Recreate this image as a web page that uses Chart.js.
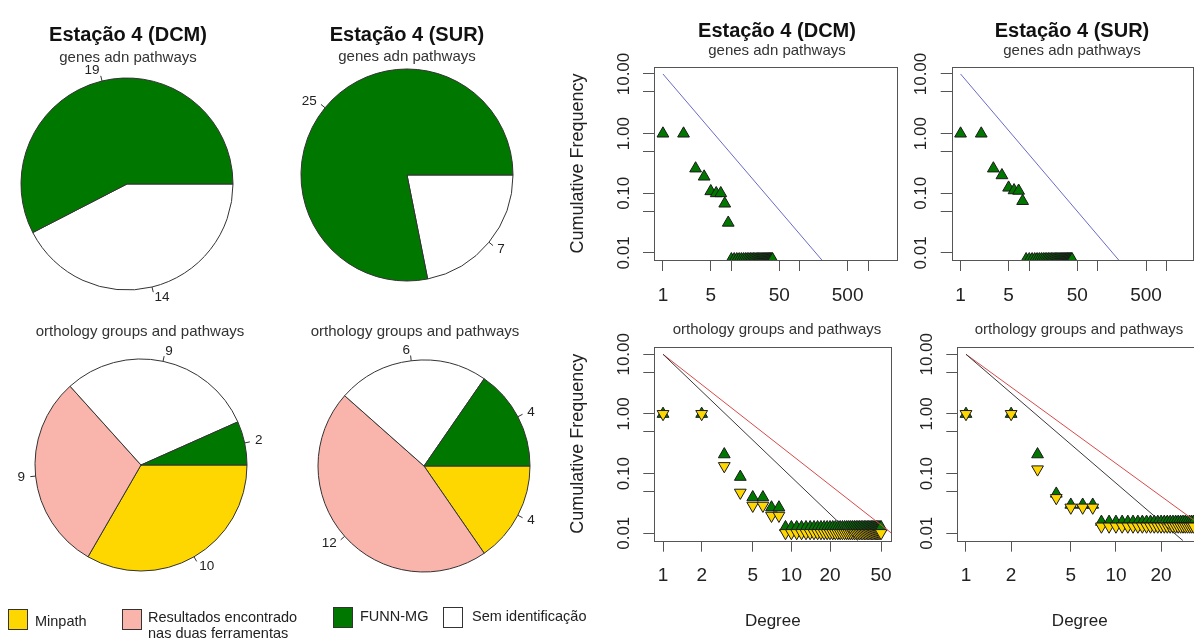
<!DOCTYPE html>
<html>
<head>
<meta charset="utf-8">
<script src="https://cdn.jsdelivr.net/npm/chart.js@4.4.0/dist/chart.umd.min.js"></script>
<style>
  body { margin: 0; width: 1194px; height: 639px; overflow: hidden; background: #fff; position: relative;
         font-family: "Liberation Sans", Arial, sans-serif; color: #222; }
  canvas { position: absolute; }
  .t { position: absolute; transform: translate(-50%, -50%); white-space: nowrap; }
  .h { font-weight: bold; font-size: 20px; color: #111; }
  .s { font-size: 15px; color: #333; }
  .box { position: absolute; width: 18px; height: 19px; border: 1px solid #333; }
  .lg { position: absolute; font-size: 14.5px; color: #222; line-height: 16px; white-space: nowrap; }
</style>
</head>
<body>

<canvas id="pie1" width="280" height="280" style="left:-13px;top:44px"></canvas>
<canvas id="pie2" width="280" height="280" style="left:267px;top:35px"></canvas>
<canvas id="pie3" width="280" height="280" style="left:1px;top:325px"></canvas>
<canvas id="pie4" width="280" height="280" style="left:284px;top:326px"></canvas>

<canvas id="sc1" width="345" height="270" style="left:560px;top:40px"></canvas>
<canvas id="sc2" width="300" height="270" style="left:900px;top:40px"></canvas>
<canvas id="sc3" width="345" height="319" style="left:560px;top:320px"></canvas>
<canvas id="sc4" width="310" height="319" style="left:900px;top:320px"></canvas>

<!-- títulos -->
<div class="t h" style="left:128px;top:34px">Estação 4 (DCM)</div>
<div class="t s" style="left:128px;top:56px">genes adn pathways</div>
<div class="t h" style="left:407px;top:34px">Estação 4 (SUR)</div>
<div class="t s" style="left:407px;top:55px">genes adn pathways</div>
<div class="t s" style="left:140px;top:330px">orthology groups and pathways</div>
<div class="t s" style="left:415px;top:330px">orthology groups and pathways</div>

<div class="t h" style="left:777px;top:30px">Estação 4 (DCM)</div>
<div class="t s" style="left:777px;top:49px">genes adn pathways</div>
<div class="t h" style="left:1072px;top:30px">Estação 4 (SUR)</div>
<div class="t s" style="left:1072px;top:49px">genes adn pathways</div>
<div class="t s" style="left:777px;top:328px">orthology groups and pathways</div>
<div class="t s" style="left:1079px;top:328px">orthology groups and pathways</div>

<!-- legenda -->
<div class="box" style="left:8px;top:609px;background:#FFD700"></div>
<div class="lg" style="left:35px;top:613px">Minpath</div>
<div class="box" style="left:122px;top:609px;background:#F9B4AB"></div>
<div class="lg" style="left:148px;top:609px">Resultados encontrado<br>nas duas ferramentas</div>
<div class="box" style="left:333px;top:607px;background:#007800"></div>
<div class="lg" style="left:360px;top:608px">FUNN-MG</div>
<div class="box" style="left:443px;top:607px;background:#fff"></div>
<div class="lg" style="left:472px;top:608px">Sem identificação</div>

<script>
// Cores das categorias
const verde = '#007800', amarelo = '#FFD700', rosa = '#F9B4AB', branco = '#FFFFFF';

// Pizzas: ordem FUNN-MG, Sem identificação, Resultados nas duas ferramentas, Minpath
const genesLabels = ['FUNN-MG', 'Sem identificação'];
const genesDCM = [19, 14];
const genesSUR = [25, 7];
const orthoLabels = ['FUNN-MG', 'Sem identificação', 'Resultados encontrado nas duas ferramentas', 'Minpath'];
const orthoDCM = [2, 9, 9, 10];
const orthoSUR = [4, 6, 12, 4];

// Dispersão genes (DCM): grau e frequência acumulada
const genesDcmDegree = [1, 2, 3, 4, 5, 6, 7, 8, 9, 10, 11, 12, 13, 14, 15, 16, 17, 18, 19, 20, 21, 22, 23, 24, 25,
  26, 27, 28, 29, 30, 31, 32, 33, 34, 35, 36, 37, 38, 39, 40];
const genesDcmFreq = [1, 1, 0.26, 0.19, 0.108, 0.1, 0.1, 0.067, 0.032, 0.0078, 0.0078, 0.0078, 0.0078, 0.0078, 0.0078,
  0.0078, 0.0078, 0.0078, 0.0078, 0.0078, 0.0078, 0.0078, 0.0078, 0.0078, 0.0078, 0.0078, 0.0078, 0.0078, 0.0078,
  0.0078, 0.0078, 0.0078, 0.0078, 0.0078, 0.0078, 0.0078, 0.0078, 0.0078, 0.0078, 0.0078];
const genesDcmFit = [[1, 10], [210, 0.0076]];

// Dispersão genes (SUR)
const genesSurDegree = [1, 2, 3, 4, 5, 6, 7, 8, 9, 10, 11, 12, 13, 14, 15, 16, 17, 18, 19, 20, 21, 22, 23, 24, 25,
  26, 27, 28, 29, 30, 31, 32, 33, 34, 35, 36, 37, 38, 39, 40, 41, 42];
const genesSurFreq = [1, 1, 0.26, 0.2, 0.124, 0.112, 0.11, 0.074, 0.0078, 0.0078, 0.0078, 0.0078, 0.0078, 0.0078,
  0.0078, 0.0078, 0.0078, 0.0078, 0.0078, 0.0078, 0.0078, 0.0078, 0.0078, 0.0078, 0.0078, 0.0078, 0.0078, 0.0078,
  0.0078, 0.0078, 0.0078, 0.0078, 0.0078, 0.0078, 0.0078, 0.0078, 0.0078, 0.0078, 0.0078, 0.0078, 0.0078, 0.0078];
const genesSurFit = [[1, 10], [200, 0.0076]];

// Dispersão orthology (DCM): FUNN-MG (verde) e Minpath (amarelo)
const orthoDcmDegree = [1, 2, 3, 4, 5, 6, 7, 8, 9, 10, 11, 12, 13, 14, 15, 16, 17, 18, 19, 20, 21, 22, 23, 24, 25,
  26, 27, 28, 29, 30, 31, 32, 33, 34, 35, 36, 37, 38, 39, 40, 41, 42, 43, 44, 45, 46, 47, 48, 49, 50];
const orthoDcmFunn = [1, 1, 0.21, 0.088, 0.04, 0.04, 0.027, 0.027, 0.0126, 0.0126, 0.0126, 0.0126, 0.0126, 0.0126,
  0.0126, 0.0126, 0.0126, 0.0126, 0.0126, 0.0126, 0.0126, 0.0126, 0.0126, 0.0126, 0.0126, 0.0126, 0.0126, 0.0126,
  0.0126, 0.0126, 0.0126, 0.0126, 0.0126, 0.0126, 0.0126, 0.0126, 0.0126, 0.0126, 0.0126, 0.0126, 0.0126, 0.0126,
  0.0126, 0.0126, 0.0126, 0.0126, 0.0126, 0.0126, 0.0126, 0.0126];
const orthoDcmMinpath = [1, 1, 0.134, 0.048, 0.029, 0.029, 0.0197, 0.0197, 0.0101, 0.0101, 0.0101, 0.0101, 0.0101,
  0.0101, 0.0101, 0.0101, 0.0101, 0.0101, 0.0101, 0.0101, 0.0101, 0.0101, 0.0101, 0.0101, 0.0101, 0.0101, 0.0101,
  0.0101, 0.0101, 0.0101, 0.0101, 0.0101, 0.0101, 0.0101, 0.0101, 0.0101, 0.0101, 0.0101, 0.0101, 0.0101, 0.0101,
  0.0101, 0.0101, 0.0101, 0.0101, 0.0101, 0.0101, 0.0101, 0.0101, 0.0101];
const orthoDcmFitBlack = [[1, 10], [33, 0.0075]];
const orthoDcmFitRed = [[1, 10], [60, 0.0101]];

// Dispersão orthology (SUR)
const orthoSurDegree = [1, 2, 3, 4, 5, 6, 7, 8, 9, 10, 11, 12, 13, 14, 15, 16, 17, 18, 19, 20, 21, 22, 23, 24, 25,
  26, 27, 28, 29, 30, 31, 32, 33];
const orthoSurFunn = [1, 1, 0.21, 0.046, 0.03, 0.03, 0.03, 0.0155, 0.0155, 0.0155, 0.0155, 0.0155, 0.0155, 0.0155,
  0.0155, 0.0155, 0.0155, 0.0155, 0.0155, 0.0155, 0.0155, 0.0155, 0.0155, 0.0155, 0.0155, 0.0155, 0.0155, 0.0155,
  0.0155, 0.0155, 0.0155, 0.0155, 0.0155];
const orthoSurMinpath = [1, 1, 0.118, 0.039, 0.027, 0.027, 0.027, 0.013, 0.013, 0.013, 0.013, 0.013, 0.013, 0.013,
  0.013, 0.013, 0.013, 0.013, 0.013, 0.013, 0.013, 0.013, 0.013, 0.013, 0.013, 0.013, 0.013, 0.013, 0.013, 0.013,
  0.013, 0.013, 0.013];
const orthoSurFitBlack = [[1, 10], [28, 0.0075]];
const orthoSurFitRed = [[1, 10], [50, 0.0078]];

// Marcas dos eixos
const xTicksGenes = [1, 5, 10, 50, 100, 500, 1000];
const xLabelsGenes = [1, 5, 50, 500];
const xTicksOrthoDcm = [1, 2, 5, 10, 20, 50];
const xTicksOrthoSur = [1, 2, 5, 10, 20];
const yTicks = [0.01, 0.05, 0.1, 0.5, 1, 5, 10];
const yLabels = [0.01, 0.1, 1, 10];

const fonte = '"Liberation Sans", Arial, sans-serif';
Chart.defaults.font.family = fonte;
Chart.defaults.color = '#222';

// Rótulos das fatias com tracinho, como no pie() do R
const pieLabelPlugin = {
  id: 'pieLabels',
  afterDatasetsDraw(chart) {
    const ctx = chart.ctx;
    const meta = chart.getDatasetMeta(0);
    const vals = chart.data.datasets[0].data;
    ctx.save();
    ctx.font = '13.5px ' + fonte;
    ctx.fillStyle = '#222';
    ctx.strokeStyle = '#333';
    ctx.lineWidth = 1;
    ctx.textBaseline = 'middle';
    meta.data.forEach((arc, i) => {
      const p = arc.getProps(['x', 'y', 'startAngle', 'endAngle', 'outerRadius'], true);
      const mid = (p.startAngle + p.endAngle) / 2;
      const c = Math.cos(mid), s = Math.sin(mid), r = p.outerRadius;
      ctx.beginPath();
      ctx.moveTo(p.x + c * r, p.y + s * r);
      ctx.lineTo(p.x + c * r * 1.05, p.y + s * r * 1.05);
      ctx.stroke();
      ctx.textAlign = c >= 0 ? 'left' : 'right';
      ctx.fillText(String(vals[i]), p.x + c * r * 1.1, p.y + s * r * 1.1);
    });
    ctx.restore();
  }
};

function pieChart(id, labels, values, colors) {
  // R desenha no sentido anti-horário a partir das 3 horas: invertemos a ordem
  new Chart(document.getElementById(id), {
    type: 'pie',
    data: {
      labels: labels.slice().reverse(),
      datasets: [{
        data: values.slice().reverse(),
        backgroundColor: colors.slice().reverse(),
        borderColor: '#333',
        borderWidth: 1
      }]
    },
    options: {
      responsive: false,
      animation: false,
      rotation: 90,
      radius: 106,
      plugins: { legend: { display: false }, tooltip: { enabled: false } }
    },
    plugins: [pieLabelPlugin]
  });
}

pieChart('pie1', genesLabels, genesDCM, [verde, branco]);
pieChart('pie2', genesLabels, genesSUR, [verde, branco]);
pieChart('pie3', orthoLabels, orthoDCM, [verde, branco, rosa, amarelo]);
pieChart('pie4', orthoLabels, orthoSUR, [verde, branco, rosa, amarelo]);

// Caixa completa em volta da área do gráfico
const boxPlugin = {
  id: 'plotBox',
  beforeDatasetsDraw(chart) {
    const a = chart.chartArea, ctx = chart.ctx;
    ctx.save();
    ctx.strokeStyle = '#555';
    ctx.lineWidth = 1;
    ctx.strokeRect(Math.round(a.left) + 0.5, Math.round(a.top) + 0.5, Math.round(a.width), Math.round(a.height));
    ctx.restore();
  }
};

// Rótulos do eixo y girados (paralelos ao eixo)
const yLabelPlugin = {
  id: 'yLabels',
  afterDraw(chart) {
    const s = chart.scales.y, ctx = chart.ctx;
    ctx.save();
    ctx.font = '17px ' + fonte;
    ctx.fillStyle = '#222';
    ctx.textAlign = 'center';
    ctx.textBaseline = 'middle';
    yLabels.forEach(v => {
      ctx.save();
      ctx.translate(s.right - 30, s.getPixelForValue(v));
      ctx.rotate(-Math.PI / 2);
      ctx.fillText(v.toFixed(2), 0, 0);
      ctx.restore();
    });
    ctx.restore();
  }
};

const pts = (xs, ys) => xs.map((x, i) => ({ x: x, y: ys[i] }));
const seg = (pairs) => pairs.map(p => ({ x: p[0], y: p[1] }));

function triangles(data, color, down) {
  return {
    data: data, pointStyle: 'triangle', pointRotation: down ? 180 : 0, pointRadius: 6.8,
    backgroundColor: color, borderColor: '#1a1a1a', pointBorderWidth: 1, showLine: false, clip: 0
  };
}
function fitLine(data, color) {
  return { data: data, showLine: true, borderColor: color, borderWidth: 1, pointRadius: 0, clip: 0 };
}

function scatterChart(id, cfg) {
  new Chart(document.getElementById(id), {
    type: 'scatter',
    data: { datasets: cfg.datasets },
    options: {
      responsive: false,
      animation: false,
      layout: { padding: { top: cfg.padTop, right: cfg.padRight, left: 0, bottom: 0 } },
      plugins: { legend: { display: false }, tooltip: { enabled: false } },
      scales: {
        x: {
          type: 'logarithmic', min: cfg.xMin, max: cfg.xMax, bounds: 'data',
          afterBuildTicks: s => { s.ticks = cfg.xTicks.map(v => ({ value: v })); },
          afterFit: s => { s.height = cfg.xAxisH; },
          border: { display: false },
          grid: { drawOnChartArea: false, drawTicks: true, tickLength: 11, color: '#555' },
          ticks: {
            autoSkip: false, maxRotation: 0, minRotation: 0, padding: 13, color: '#222',
            font: { size: 19 },
            callback: v => cfg.xLabels.includes(v) ? String(v) : ''
          },
          title: { display: cfg.xTitle, text: 'Degree', color: '#222', font: { size: 17 }, padding: { top: 0, bottom: 7 } }
        },
        y: {
          type: 'logarithmic', min: cfg.yMin, max: cfg.yMax, bounds: 'data',
          afterBuildTicks: s => { s.ticks = yTicks.map(v => ({ value: v })); },
          afterFit: s => { s.width = cfg.yAxisW; },
          border: { display: false },
          grid: { drawOnChartArea: false, drawTicks: true, tickLength: 11, color: '#555' },
          ticks: { callback: () => '' },
          title: { display: cfg.yTitle, text: 'Cumulative Frequency', color: '#222', font: { size: 18 }, padding: { top: 7, bottom: 0 } }
        }
      }
    },
    plugins: [boxPlugin, yLabelPlugin]
  });
}

scatterChart('sc1', {
  datasets: [fitLine(seg(genesDcmFit), '#6a6ac8'), triangles(pts(genesDcmDegree, genesDcmFreq), verde, false)],
  xMin: 0.74, xMax: 2650, yMin: 0.0076, yMax: 13.1, xTicks: xTicksGenes, xLabels: xLabelsGenes,
  padTop: 27, padRight: 5.7, xAxisH: 50, yAxisW: 94, xTitle: false, yTitle: true
});
scatterChart('sc2', {
  datasets: [fitLine(seg(genesSurFit), '#6a6ac8'), triangles(pts(genesSurDegree, genesSurFreq), verde, false)],
  xMin: 0.743, xMax: 2350, yMin: 0.0076, yMax: 13.1, xTicks: xTicksGenes, xLabels: xLabelsGenes,
  padTop: 27, padRight: 3.3, xAxisH: 50, yAxisW: 51.7, xTitle: false, yTitle: false
});
scatterChart('sc3', {
  datasets: [
    fitLine(seg(orthoDcmFitBlack), '#3a3a3a'), fitLine(seg(orthoDcmFitRed), '#d84a4a'),
    triangles(pts(orthoDcmDegree, orthoDcmMinpath), amarelo, true),
    triangles(pts(orthoDcmDegree, orthoDcmFunn), verde, false)
  ],
  xMin: 0.855, xMax: 60, yMin: 0.0075, yMax: 13.4, xTicks: xTicksOrthoDcm, xLabels: xTicksOrthoDcm,
  padTop: 26.7, padRight: 5.7, xAxisH: 98.3, yAxisW: 94.3, xTitle: true, yTitle: true
});
scatterChart('sc4', {
  datasets: [
    fitLine(seg(orthoSurFitBlack), '#3a3a3a'), fitLine(seg(orthoSurFitRed), '#d84a4a'),
    triangles(pts(orthoSurDegree, orthoSurMinpath), amarelo, true),
    triangles(pts(orthoSurDegree, orthoSurFunn), verde, false)
  ],
  xMin: 0.875, xMax: 37.6, yMin: 0.0075, yMax: 13.4, xTicks: xTicksOrthoSur, xLabels: xTicksOrthoSur,
  padTop: 26.7, padRight: 7.7, xAxisH: 98.3, yAxisW: 57.3, xTitle: true, yTitle: false
});
</script>
</body>
</html>
